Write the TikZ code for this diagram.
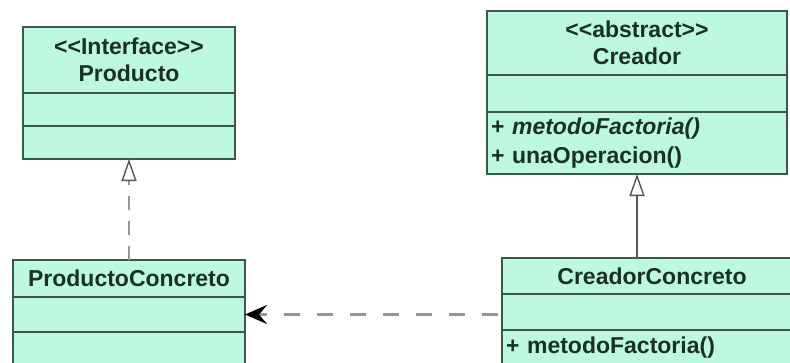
\documentclass[tikz,border=0pt]{standalone}
\usepackage{fontspec}
\setmainfont{Liberation Sans}
\usetikzlibrary{arrows.meta,positioning}

\definecolor{umlfill}{RGB}{188,249,222}
\definecolor{umlline}{RGB}{60,88,74}
\definecolor{umltext}{RGB}{26,48,36}
\definecolor{linkgray}{RGB}{150,150,150}
\definecolor{linkdark}{RGB}{85,85,85}

\tikzset{
  umlbox/.style={draw=umlline, fill=umlfill, line width=1.4pt, inner sep=0pt,
    outer sep=0pt, text=umltext, font=\fontsize{23}{27}\selectfont\bfseries},
  umlops/.style={umlbox, align=left, inner xsep=4pt, text width=#1-8pt,
    minimum width=#1, font=\fontsize{23}{29}\selectfont\bfseries},
  realizes/.style={draw=linkgray, line width=2.5pt, dash pattern=on 14pt off 11pt,
    -{Triangle[open, length=22pt, width=15pt, line width=1.4pt, color=linkdark, fill=white]}},
  inherits/.style={draw=linkdark, line width=1.6pt,
    -{Triangle[open, length=22pt, width=15pt, line width=1.4pt, fill=white]}},
  uses/.style={draw=linkgray, line width=3.5pt, dash pattern=on 16pt off 17pt, dash phase=29pt,
    -{Stealth[length=22pt, width=19pt, inset=8pt, color=black]}}
}

\begin{document}
\begin{tikzpicture}[x=1pt,y=-1pt]
  \clip (0,0) rectangle (790,362);

  % Producto (interface)
  \node [umlbox, minimum width=212pt, minimum height=66pt, align=center] (prod) at (129,60)
    {<{}<Interface>{}>\\Producto};
  \node [umlbox, minimum width=212pt, minimum height=33pt, below=0pt of prod] (prodattr) {};
  \node [umlbox, minimum width=212pt, minimum height=33pt, below=0pt of prodattr] (prodops) {};

  % Creador (abstract)
  \node [umlbox, minimum width=300pt, minimum height=64pt, align=center] (creador) at (637,43)
    {<{}<abstract>{}>\\Creador};
  \node [umlbox, minimum width=300pt, minimum height=37pt, below=0pt of creador] (creadorattr) {};
  \node [umlops=300pt, minimum height=62pt, below=0pt of creadorattr] (creadorops)
    {+ \textit{metodoFactoria()}\\+ unaOperacion()};

  % ProductoConcreto
  \node [umlbox, minimum width=232pt, minimum height=37pt] (pc) at (129,278.5) {ProductoConcreto};
  \node [umlbox, minimum width=232pt, minimum height=35pt, below=0pt of pc] (pcattr) {};
  \node [umlbox, minimum width=232pt, minimum height=35pt, below=0pt of pcattr] (pcops) {};

  % CreadorConcreto
  \node [umlbox, minimum width=300pt, minimum height=36pt] (cc) at (652,276) {CreadorConcreto};
  \node [umlbox, minimum width=300pt, minimum height=36pt, below=0pt of cc] (ccattr) {};
  \node [umlops=300pt, minimum height=36pt, below=0pt of ccattr] (ccops) {+ metodoFactoria()};

  % relations
  \draw [realizes] (pc.north) -- (prodops.south);
  \draw [inherits] (creadorops.south |- cc.north) -- (creadorops.south);
  \draw [uses] (ccattr.west |- pcattr.east) -- (pcattr.east);
\end{tikzpicture}
\end{document}
